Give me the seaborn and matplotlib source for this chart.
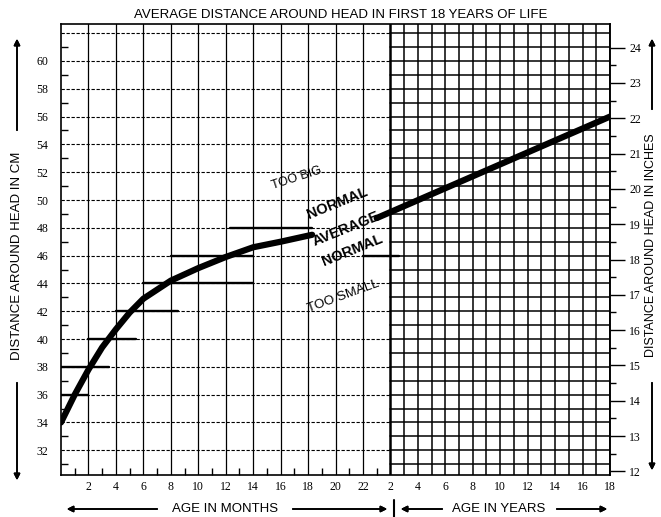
import numpy as np
import pandas as pd
import matplotlib.pyplot as plt
import seaborn as sns

# curva promedio, tramo en meses (edad en meses, cm)
meses = [0, 1, 2, 3, 4, 5, 6, 8, 10, 12, 14, 16, 18.3]
cm_meses = [34.0, 36.0, 37.8, 39.4, 40.7, 41.9, 42.9, 44.2, 45.1, 45.9, 46.6, 47.0, 47.5]

# tramo en años (edad en años, cm)
anios = [1, 18]
cm_anios = [48.7, 56.0]

# escalones gruesos de la banda normal (cm, desde mes, hasta mes)
tramos_cm = [36, 38, 40, 42, 44, 46, 48, 46]
tramos_x0 = [0, 0, 2, 4, 6, 8, 12.3, 22]
tramos_x1 = [2, 3.5, 5.5, 8.5, 14, 14, 18.3, 24.6]

ticks_meses = [2, 4, 6, 8, 10, 12, 14, 16, 18, 20, 22]
ticks_anios = [2, 4, 6, 8, 10, 12, 14, 16, 18]
ticks_cm = list(range(32, 61, 2))
ticks_pulg = list(range(12, 25))

titulo = "AVERAGE DISTANCE AROUND HEAD IN FIRST 18 YEARS OF LIFE"


def x_anios(a):
    # 2 años quedan sobre el mes 24, cada año ocupa un mes
    return 22 + np.asarray(a, dtype=float)


sns.set_theme(style="white")
plt.rcParams["font.family"] = ["Liberation Serif", "DejaVu Serif"]
for k in ["text.color", "axes.labelcolor", "xtick.color", "ytick.color"]:
    plt.rcParams[k] = "black"
fuente_rotulo = ["Liberation Sans", "DejaVu Sans"]

fig = plt.figure(figsize=(6.61, 5.17), dpi=100)
ax = fig.add_axes([61 / 661, 1 - 475 / 517, 549 / 661, 451 / 517])
ax.set_xlim(0, 40)
ax.set_ylim(30.22, 62.66)

# cuadricula de la parte de meses
for x in range(2, 24, 2):
    ax.axvline(x, color="black", lw=0.9, zorder=1)
for y in range(32, 63, 2):
    ax.plot([0, 24], [y, y], color="black", lw=0.8, ls=(0, (3, 1.5)), zorder=1)

# cuadricula fina de la parte de años
for x in range(25, 41):
    ax.axvline(x, color="black", lw=1.1, zorder=1)
for y in range(31, 63):
    ax.plot([24, 40], [y, y], color="black", lw=1.1, zorder=1)
ax.axvline(24, color="black", lw=1.8, zorder=2)

# escalones de la banda
for y, a, b in zip(tramos_cm, tramos_x0, tramos_x1):
    ax.plot([a, b], [y, y], color="black", lw=1.7, zorder=2)

df_m = pd.DataFrame({"x": meses, "cm": cm_meses})
df_a = pd.DataFrame({"x": x_anios(anios), "cm": cm_anios})
sns.lineplot(data=df_m, x="x", y="cm", color="black", lw=4.5, ax=ax, zorder=5,
             solid_capstyle="round")
sns.lineplot(data=df_a, x="x", y="cm", color="black", lw=4.5, ax=ax, zorder=5,
             solid_capstyle="round")
ax.set_xlabel("")
ax.set_ylabel("")

# textos de la banda
ax.text(17.2, 51.6, "TOO BIG", rotation=18, ha="center", va="center",
        fontsize=9, family=fuente_rotulo, zorder=6)
ax.text(20.1, 49.8, "NORMAL", rotation=22, ha="center", va="center",
        fontsize=10.5, fontweight="bold", family=fuente_rotulo, zorder=6)
ax.text(20.8, 47.9, "AVERAGE", rotation=22, ha="center", va="center",
        fontsize=10.5, fontweight="bold", family=fuente_rotulo, zorder=6)
ax.text(21.2, 46.4, "NORMAL", rotation=22, ha="center", va="center",
        fontsize=10.5, fontweight="bold", family=fuente_rotulo, zorder=6)
ax.text(20.6, 43.1, "TOO SMALL", rotation=20, ha="center", va="center",
        fontsize=9.5, family=fuente_rotulo, zorder=6)

# ejes
ax.set_xticks(ticks_meses + list(x_anios(ticks_anios)))
ax.set_xticklabels([str(t) for t in ticks_meses] + [str(t) for t in ticks_anios])
ax.set_xticks(range(1, 24, 2), minor=True)
ax.set_yticks(ticks_cm)
ax.set_yticks(range(31, 62, 2), minor=True)
ax.tick_params(axis="both", which="major", length=0, labelsize=8.5, pad=4)
ax.tick_params(axis="y", which="major", pad=9)
ax.tick_params(axis="both", which="minor", direction="in", length=5, width=1,
               color="black", bottom=True, left=True)
for s in ax.spines.values():
    s.set_color("black")
    s.set_linewidth(1.2)

sec = ax.secondary_yaxis("right", functions=(lambda c: c / 2.54, lambda p: p * 2.54))
sec.set_yticks(ticks_pulg)
sec.set_yticks(np.arange(12.5, 24, 1), minor=True)
sec.tick_params(which="major", direction="out", length=11, width=1, labelsize=8.5,
                pad=3, color="black")
sec.tick_params(which="minor", direction="out", length=4, width=1, color="black")
sec.spines["right"].set_linewidth(1.2)

# titulo y rotulos con flechas
fig.text(0.515, 1 - 15 / 517, titulo, ha="center", va="center", fontsize=9.5,
         family=fuente_rotulo)

fig.text(17 / 661, 1 - 256 / 517, "DISTANCE AROUND HEAD IN CM", rotation=90,
         ha="center", va="center", fontsize=9.5, family=fuente_rotulo)
fig.text(651 / 661, 1 - 245 / 517, "DISTANCE AROUND HEAD IN INCHES", rotation=90,
         ha="center", va="center", fontsize=9, family=fuente_rotulo)
fig.text(225 / 661, 1 - 509 / 517, "AGE IN MONTHS", ha="center", va="center",
         fontsize=9.5, family=fuente_rotulo)
fig.text(499 / 661, 1 - 509 / 517, "AGE IN YEARS", ha="center", va="center",
         fontsize=9.5, family=fuente_rotulo)

flecha = dict(arrowstyle="-|>", color="black", lw=1.2, mutation_scale=9)
flechas = [((17, 133), (17, 36)), ((17, 380), (17, 483)),
           ((652, 112), (652, 36)), ((652, 380), (652, 473)),
           ((160, 509), (64, 509)), ((290, 509), (390, 509)),
           ((445, 509), (398, 509)), ((554, 509), (610, 509))]
for (x0, y0), (x1, y1) in flechas:
    fig.add_artist(plt.annotate("", xy=(x1 / 661, 1 - y1 / 517), xycoords="figure fraction",
                                xytext=(x0 / 661, 1 - y0 / 517), textcoords="figure fraction",
                                arrowprops=flecha))
fig.add_artist(plt.Line2D([394 / 661, 394 / 661], [1 - 519 / 517, 1 - 500 / 517],
                          color="black", lw=1.5))

fig.savefig("out.png", dpi=100)
